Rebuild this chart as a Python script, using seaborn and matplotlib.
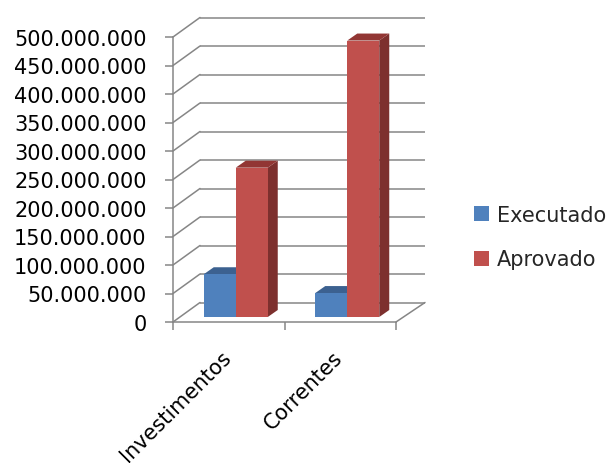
import numpy as np
import pandas as pd
import matplotlib
matplotlib.use("Agg")
import matplotlib.pyplot as plt
import seaborn as sns
from matplotlib.transforms import ScaledTranslation
from matplotlib.patches import Polygon, Patch
from matplotlib.ticker import FuncFormatter, FixedLocator

categories = ["Investimentos", "Correntes"]
series = ["Executado", "Aprovado"]
executado = [75_000_000, 42_000_000]
aprovado = [262_000_000, 485_000_000]
yticks = list(range(0, 500_000_001, 50_000_000))

df = pd.DataFrame({
    "categoria": categories * 2,
    "serie": [series[0]] * 2 + [series[1]] * 2,
    "valor": executado + aprovado,
})

sns.set_theme(style="white")
plt.rcParams["font.family"] = ["DejaVu Sans"]

W, H = 609, 464
fig = plt.figure(figsize=(W / 100, H / 100), dpi=100)
ax = fig.add_axes([173 / W, 1 - 323 / H, 223 / W, 285 / H])

front = {"Executado": "#4F81BD", "Aprovado": "#C0504D"}
side = {"Executado": "#3A5F8C", "Aprovado": "#7D302E"}
top = {"Executado": "#3C6190", "Aprovado": "#923634"}

sns.barplot(data=df, x="categoria", y="valor", hue="serie", order=categories,
            hue_order=series, palette=front, width=0.574, ax=ax, legend=False,
            saturation=1, edgecolor="none", linewidth=0)
ax.set_xlim(-0.5, 1.5)
ax.set_ylim(0, 500_000_000)

GRID = "#868686"
LW = 1.1
ux = 2 / 223          # data units per pixel (x)
uy = 500_000_000 / 285  # data units per pixel (y)
DX, DY = 27 * ux, 19.5 * uy  # wall depth

# back wall grid lines + left wall slants
for v in yticks:
    ax.plot([-0.5 + DX, 1.5 + DX + 2 * ux], [v + DY, v + DY], color=GRID, lw=LW,
            zorder=1, clip_on=False, solid_capstyle="butt")
    ax.plot([-0.5, -0.5 + DX], [v, v + DY], color=GRID, lw=LW, zorder=1,
            clip_on=False)
# floor right edge
ax.plot([1.5, 1.5 + DX + 2 * ux], [0, DY], color=GRID, lw=LW, zorder=1, clip_on=False)

# 3D bars
shift = ax.transData + ScaledTranslation(7 / 100, 5 / 100, fig.dpi_scale_trans)
bdx, bdy = 10 * ux, 7 * uy
bars = list(ax.patches)
for p in bars:
    fc = matplotlib.colors.to_hex(p.get_facecolor())
    name = "Executado" if fc.lower() == front["Executado"].lower() else "Aprovado"
    base = 3 + series.index(name)
    x, w, h = p.get_x(), p.get_width(), p.get_height()
    p.set_transform(shift)
    p.set_zorder(base + 0.5)
    p.set_clip_on(False)
    sp = Polygon([(x + w, 0), (x + w, h), (x + w + bdx, h + bdy), (x + w + bdx, bdy)],
                 closed=True, facecolor=side[name], edgecolor="none",
                 transform=shift, zorder=base, clip_on=False)
    tp = Polygon([(x, h), (x + w, h), (x + w + bdx, h + bdy), (x + bdx, h + bdy)],
                 closed=True, facecolor=top[name], edgecolor="none",
                 transform=shift, zorder=base, clip_on=False)
    ax.add_patch(sp)
    ax.add_patch(tp)

# spines / ticks
for s in ["top", "right"]:
    ax.spines[s].set_visible(False)
for s in ["left", "bottom"]:
    ax.spines[s].set_color(GRID)
    ax.spines[s].set_linewidth(LW)
    ax.spines[s].set_zorder(2)

ax.set_yticks(yticks)
ax.yaxis.set_major_formatter(FuncFormatter(lambda v, pos: f"{int(v):,}".replace(",", ".")))
ax.tick_params(axis="y", left=True, direction="out", length=6, width=LW, color=GRID,
               labelsize=15, pad=13, labelcolor="black")
ax.set_xticks(range(len(categories)))
ax.set_xticklabels(categories, rotation=45, ha="right", rotation_mode="anchor")
ax.xaxis.set_minor_locator(FixedLocator([-0.5, 0.5, 1.5]))
ax.tick_params(axis="x", which="major", bottom=True, length=0, labelsize=15, pad=18,
               labelcolor="black")
ax.tick_params(axis="x", which="minor", bottom=True, direction="out", length=6,
               width=LW, color=GRID)
for lab in ax.get_xticklabels():
    lab.set_transform(lab.get_transform() + ScaledTranslation(-8 / 100, 0, fig.dpi_scale_trans))
ax.set_xlabel("")
ax.set_ylabel("")

handles = [Patch(facecolor=front[s], edgecolor="none") for s in series]
fig.legend(handles=handles, labels=series, loc="center left",
           bbox_to_anchor=(466 / W, 1 - 238 / H), frameon=False, fontsize=15,
           handlelength=0.7, handleheight=0.7, handletextpad=0.4, labelspacing=1.2,
           borderaxespad=0)

fig.savefig("out.png", dpi=100)
